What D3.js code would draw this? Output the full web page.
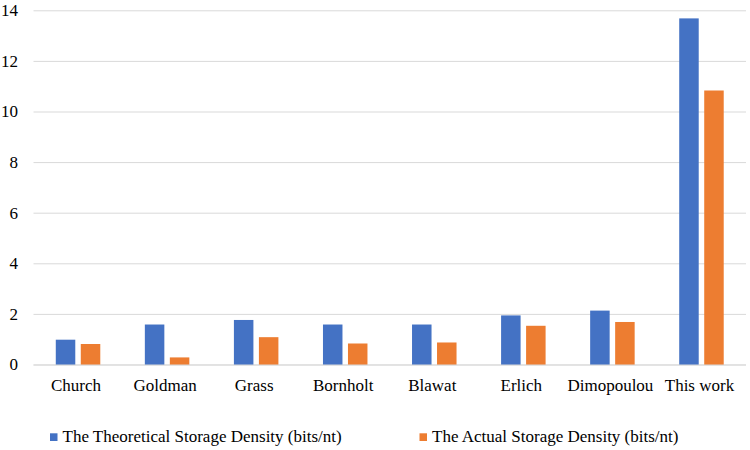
<!DOCTYPE html>
<html><head><meta charset="utf-8">
<script src="https://cdn.jsdelivr.net/npm/d3@7"></script>
<style>body{margin:0;background:#fff}svg{display:block}</style>
</head><body><div id="chart"></div>
<script>
const categories = ["Church","Goldman","Grass","Bornholt","Blawat","Erlich","Dimopoulou","This work"];
const theoretical = [1.0,1.6,1.78,1.6,1.6,1.96,2.15,13.7];
const actual = [0.83,0.3,1.1,0.85,0.89,1.55,1.7,10.85];
const seriesNames = ["The Theoretical Storage Density (bits/nt)","The Actual Storage Density (bits/nt)"];
const yTicks = [0,2,4,6,8,10,12,14];
const colors = ["#4472C4","#ED7D31"];

const W = 750, H = 450;
const svg = d3.select("#chart").append("svg").attr("width", W).attr("height", H)
  .style("font-family", '"Times New Roman", "Liberation Serif", Tinos, Times, serif')
  .style("font-size", "17px");
const m = {l:33.5, r:4};
const x = d3.scaleBand().domain(categories).range([m.l, W-m.r]).paddingInner(0).paddingOuter(0);
const y = d3.scaleLinear().domain([0,14]).range([365, 10.8]);

svg.append("g").selectAll("line").data(yTicks).join("line")
  .attr("x1", m.l).attr("x2", W-m.r)
  .attr("y1", d=>y(d)).attr("y2", d=>y(d))
  .attr("stroke", "#d9d9d9").attr("stroke-width", 1);

// y labels
svg.append("g").selectAll("text").data(yTicks).join("text")
  .attr("x", 18).attr("y", d=>y(d)).attr("dy", "0.32em").attr("text-anchor", "end")
  .attr("fill", "#000").text(d=>d);

// bars
const bw = 19.5, gap = 5.5;
const series = [theoretical, actual];
series.forEach((vals, j)=>{
  svg.append("g").selectAll("rect").data(categories).join("rect")
    .attr("x", (c)=> x(c) + x.bandwidth()/2 + (j===0 ? -gap/2 - bw : gap/2))
    .attr("width", bw)
    .attr("y", (c,i)=> y(vals[i]))
    .attr("height", (c,i)=> y(0) - y(vals[i]))
    .attr("fill", colors[j]);
});

svg.append("line").attr("x1", m.l).attr("x2", W-m.r).attr("y1", y(0)).attr("y2", y(0)).attr("stroke","#d9d9d9");

// x labels
svg.append("g").selectAll("text").data(categories).join("text")
  .attr("x", c=> x(c) + x.bandwidth()/2 - 2).attr("y", 390.5).attr("text-anchor", "middle")
  .attr("fill", "#000").text(c=>c);

// legend
const legX = [50, 419.5];
seriesNames.forEach((n,i)=>{
  svg.append("rect").attr("x", legX[i]).attr("y", 433.3).attr("width", 7.5).attr("height", 7.7).attr("fill", colors[i]);
  svg.append("text").attr("x", legX[i]+12.5).attr("y", 442).attr("fill","#000").text(n);
});
</script></body></html>
